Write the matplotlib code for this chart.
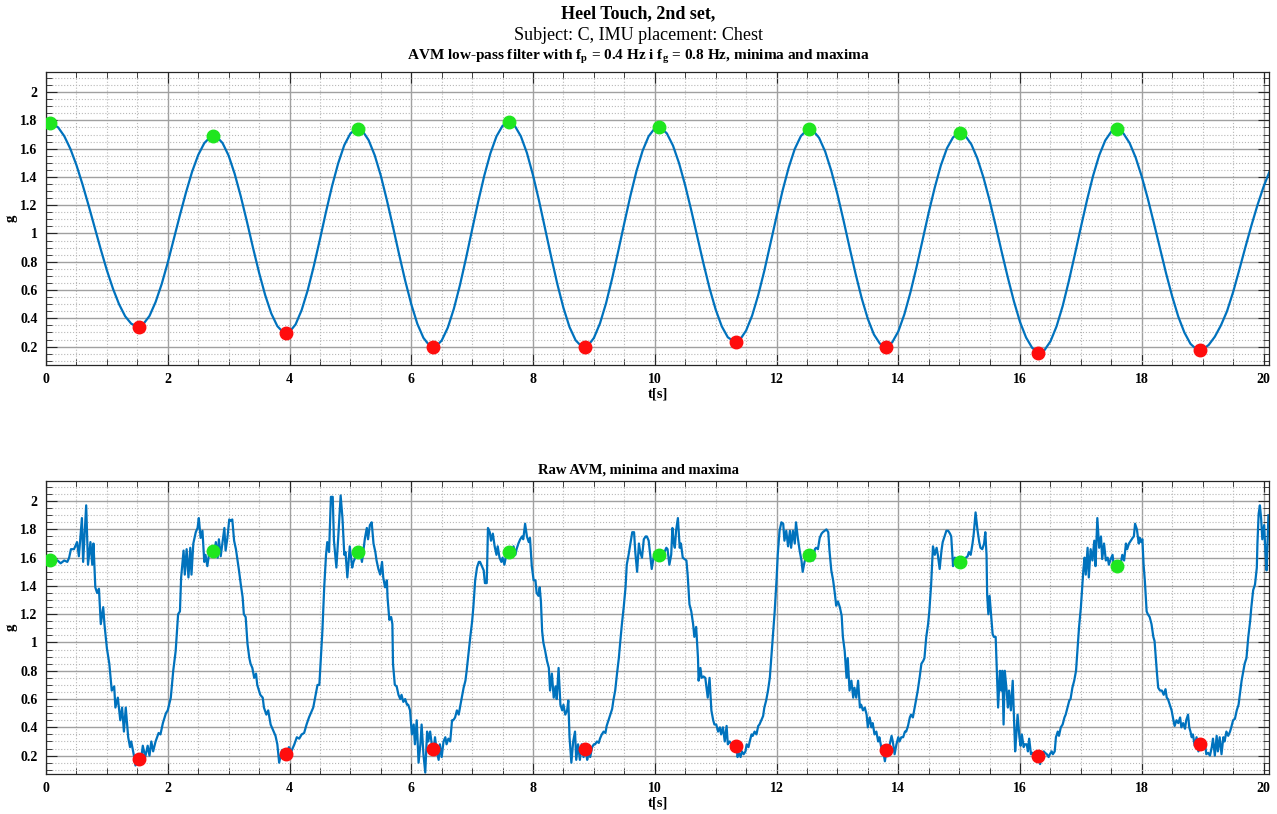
import numpy as np
import matplotlib
matplotlib.use("Agg")
import matplotlib.pyplot as plt
from matplotlib.ticker import MultipleLocator, FuncFormatter

plt.rcParams['font.family'] = ['Liberation Serif', 'DejaVu Serif']
plt.rcParams['mathtext.fontset'] = 'custom'
plt.rcParams['mathtext.rm'] = 'Liberation Serif'
plt.rcParams['mathtext.bf'] = 'Liberation Serif:bold'

# low-pass filtered AVM, sampled every 0.1 s from t = 0 to 20.1 s
t_filt = np.round(np.arange(0, 20.15, 0.1), 2)
g_filt = [
    1.775, 1.778, 1.750, 1.689, 1.599, 1.484, 1.347, 1.198, 1.042, 0.887,
    0.740, 0.610, 0.500, 0.415, 0.362, 0.342, 0.360, 0.417, 0.515, 0.642,
    0.794, 0.961, 1.130, 1.291, 1.437, 1.555, 1.639, 1.683, 1.686, 1.640,
    1.551, 1.421, 1.262, 1.085, 0.900, 0.723, 0.565, 0.435, 0.345, 0.299,
    0.304, 0.357, 0.459, 0.600, 0.771, 0.959, 1.154, 1.337, 1.497, 1.625,
    1.707, 1.742, 1.725, 1.660, 1.553, 1.409, 1.235, 1.047, 0.853, 0.667,
    0.500, 0.361, 0.262, 0.207, 0.199, 0.243, 0.334, 0.468, 0.635, 0.826,
    1.028, 1.226, 1.410, 1.567, 1.687, 1.762, 1.788, 1.762, 1.688, 1.570,
    1.412, 1.230, 1.032, 0.832, 0.642, 0.474, 0.338, 0.245, 0.200, 0.205,
    0.261, 0.364, 0.507, 0.682, 0.875, 1.074, 1.267, 1.442, 1.585, 1.688,
    1.744, 1.749, 1.707, 1.621, 1.496, 1.340, 1.163, 0.975, 0.788, 0.613,
    0.463, 0.344, 0.266, 0.237, 0.249, 0.313, 0.420, 0.565, 0.737, 0.928,
    1.120, 1.304, 1.466, 1.598, 1.689, 1.733, 1.728, 1.676, 1.579, 1.443,
    1.279, 1.094, 0.901, 0.713, 0.541, 0.396, 0.286, 0.220, 0.200, 0.230,
    0.307, 0.428, 0.584, 0.762, 0.955, 1.148, 1.326, 1.482, 1.603, 1.680,
    1.710, 1.692, 1.631, 1.530, 1.395, 1.234, 1.055, 0.868, 0.688, 0.520,
    0.374, 0.264, 0.191, 0.159, 0.174, 0.237, 0.343, 0.486, 0.660, 0.850,
    1.045, 1.235, 1.408, 1.552, 1.658, 1.721, 1.737, 1.707, 1.640, 1.537,
    1.402, 1.245, 1.072, 0.894, 0.717, 0.555, 0.412, 0.300, 0.220, 0.180,
    0.180, 0.212, 0.270, 0.350, 0.450, 0.585, 0.740, 0.900, 1.055, 1.200,
    1.330, 1.440,
]

# raw AVM, vertices
t_raw = [
    0.00, 0.07, 0.13, 0.19, 0.24, 0.30, 0.35, 0.38, 0.41, 0.46, 0.51, 0.54, 0.59, 0.61, 0.66,
    0.69, 0.73, 0.76, 0.78, 0.81, 0.84, 0.87, 0.90, 0.94, 0.96, 1.00, 1.04, 1.08, 1.12, 1.14,
    1.18, 1.22, 1.25, 1.28, 1.31, 1.35, 1.38, 1.40, 1.44, 1.47, 1.50, 1.54, 1.57, 1.59, 1.63,
    1.67, 1.70, 1.73, 1.76, 1.80, 1.85, 1.88, 1.92, 1.97, 2.00, 2.05, 2.09, 2.13, 2.17, 2.20,
    2.22, 2.26, 2.28, 2.31, 2.34, 2.37, 2.39, 2.42, 2.46, 2.49, 2.51, 2.54, 2.57, 2.60, 2.62,
    2.65, 2.69, 2.73, 2.76, 2.79, 2.82, 2.84, 2.87, 2.90, 2.93, 2.95, 2.98, 3.01, 3.03, 3.06,
    3.09, 3.12, 3.14, 3.17, 3.20, 3.23, 3.25, 3.28, 3.31, 3.34, 3.36, 3.39, 3.42, 3.45, 3.47,
    3.52, 3.56, 3.58, 3.62, 3.65, 3.69, 3.74, 3.77, 3.80, 3.83, 3.86, 3.88, 3.92, 3.96, 3.99,
    4.03, 4.08, 4.12, 4.16, 4.20, 4.24, 4.28, 4.32, 4.35, 4.39, 4.43, 4.46, 4.49, 4.51, 4.54,
    4.57, 4.60, 4.62, 4.65, 4.68, 4.71, 4.73, 4.77, 4.80, 4.84, 4.87, 4.90, 4.92, 4.95, 4.99,
    5.03, 5.05, 5.08, 5.11, 5.16, 5.19, 5.21, 5.24, 5.27, 5.29, 5.32, 5.35, 5.38, 5.41, 5.43,
    5.46, 5.49, 5.52, 5.54, 5.57, 5.60, 5.61, 5.64, 5.67, 5.69, 5.70, 5.73, 5.76, 5.79, 5.82,
    5.84, 5.87, 5.90, 5.93, 5.95, 5.98, 6.01, 6.04, 6.06, 6.09, 6.12, 6.15, 6.17, 6.20, 6.23,
    6.26, 6.28, 6.31, 6.34, 6.37, 6.39, 6.42, 6.45, 6.47, 6.50, 6.53, 6.56, 6.58, 6.61, 6.64,
    6.67, 6.69, 6.72, 6.75, 6.78, 6.80, 6.83, 6.86, 6.89, 6.91, 6.94, 6.97, 7.00, 7.02, 7.05,
    7.08, 7.11, 7.13, 7.16, 7.19, 7.21, 7.24, 7.26, 7.29, 7.31, 7.34, 7.37, 7.40, 7.42, 7.45,
    7.48, 7.50, 7.53, 7.57, 7.60, 7.63, 7.66, 7.68, 7.71, 7.73, 7.76, 7.79, 7.82, 7.84, 7.87,
    7.90, 7.93, 7.95, 7.98, 8.01, 8.04, 8.06, 8.09, 8.11, 8.13, 8.15, 8.17, 8.20, 8.23, 8.26,
    8.28, 8.31, 8.34, 8.37, 8.39, 8.42, 8.45, 8.48, 8.50, 8.53, 8.56, 8.58, 8.60, 8.63, 8.66,
    8.69, 8.71, 8.74, 8.77, 8.80, 8.83, 8.86, 8.89, 8.91, 8.94, 8.97, 9.00, 9.02, 9.05, 9.08,
    9.10, 9.13, 9.16, 9.19, 9.21, 9.24, 9.27, 9.30, 9.32, 9.35, 9.38, 9.41, 9.43, 9.46, 9.49,
    9.52, 9.54, 9.57, 9.60, 9.63, 9.66, 9.68, 9.71, 9.74, 9.76, 9.79, 9.82, 9.85, 9.87, 9.90,
    9.93, 9.95, 9.98, 10.01, 10.07, 10.11, 10.13, 10.16, 10.19, 10.21, 10.24, 10.27, 10.29, 10.31, 10.33,
    10.35, 10.38, 10.41, 10.43, 10.46, 10.49, 10.52, 10.54, 10.57, 10.60, 10.63, 10.65, 10.68, 10.71, 10.72,
    10.75, 10.77, 10.80, 10.83, 10.85, 10.87, 10.90, 10.93, 10.96, 10.98, 11.01, 11.04, 11.07, 11.09, 11.12,
    11.15, 11.18, 11.20, 11.23, 11.26, 11.29, 11.31, 11.34, 11.36, 11.38, 11.41, 11.43, 11.46, 11.49, 11.51,
    11.54, 11.56, 11.59, 11.61, 11.64, 11.67, 11.70, 11.72, 11.75, 11.78, 11.80, 11.83, 11.86, 11.89, 11.91,
    11.94, 11.97, 12.00, 12.02, 12.05, 12.08, 12.11, 12.13, 12.16, 12.19, 12.22, 12.24, 12.27, 12.30, 12.32,
    12.35, 12.38, 12.41, 12.43, 12.46, 12.49, 12.54, 12.57, 12.60, 12.63, 12.65, 12.68, 12.71, 12.74, 12.76,
    12.79, 12.82, 12.85, 12.87, 12.90, 12.93, 12.96, 12.98, 13.01, 13.04, 13.07, 13.09, 13.12, 13.15, 13.17,
    13.20, 13.23, 13.26, 13.28, 13.31, 13.34, 13.37, 13.39, 13.42, 13.45, 13.48, 13.50, 13.53, 13.56, 13.58,
    13.61, 13.64, 13.67, 13.69, 13.72, 13.75, 13.78, 13.81, 13.83, 13.86, 13.89, 13.91, 13.94, 13.97, 14.00,
    14.02, 14.05, 14.08, 14.11, 14.13, 14.16, 14.19, 14.21, 14.24, 14.27, 14.30, 14.32, 14.35, 14.38, 14.41,
    14.43, 14.46, 14.49, 14.51, 14.54, 14.57, 14.60, 14.63, 14.65, 14.68, 14.71, 14.73, 14.76, 14.79, 14.82,
    14.85, 14.87, 14.90, 14.93, 14.95, 14.98, 15.04, 15.11, 15.14, 15.16, 15.19, 15.22, 15.24, 15.27, 15.30,
    15.33, 15.35, 15.38, 15.41, 15.43, 15.45, 15.46, 15.48, 15.50, 15.52, 15.55, 15.57, 15.60, 15.62, 15.64,
    15.67, 15.69, 15.71, 15.73, 15.75, 15.78, 15.80, 15.82, 15.85, 15.88, 15.90, 15.92, 15.94, 15.96, 15.99,
    16.01, 16.03, 16.06, 16.08, 16.11, 16.13, 16.15, 16.18, 16.20, 16.23, 16.26, 16.29, 16.33, 16.36, 16.39,
    16.41, 16.44, 16.47, 16.49, 16.52, 16.54, 16.57, 16.59, 16.62, 16.64, 16.67, 16.70, 16.73, 16.75, 16.78,
    16.81, 16.83, 16.86, 16.89, 16.92, 16.94, 16.97, 17.00, 17.03, 17.04, 17.06, 17.08, 17.11, 17.13, 17.16,
    17.19, 17.22, 17.24, 17.27, 17.30, 17.33, 17.35, 17.38, 17.41, 17.44, 17.46, 17.49, 17.52, 17.54, 17.61,
    17.66, 17.68, 17.71, 17.74, 17.76, 17.79, 17.82, 17.85, 17.87, 17.89, 17.92, 17.95, 17.97, 17.99, 18.01,
    18.03, 18.05, 18.08, 18.10, 18.13, 18.16, 18.19, 18.21, 18.23, 18.25, 18.27, 18.30, 18.33, 18.36, 18.39,
    18.41, 18.43, 18.46, 18.49, 18.52, 18.54, 18.57, 18.60, 18.63, 18.65, 18.68, 18.71, 18.73, 18.76, 18.78,
    18.80, 18.82, 18.84, 18.87, 18.90, 18.93, 18.95, 18.98, 19.01, 19.04, 19.06, 19.09, 19.12, 19.15, 19.17,
    19.20, 19.23, 19.25, 19.28, 19.31, 19.34, 19.36, 19.39, 19.42, 19.45, 19.47, 19.50, 19.53, 19.56, 19.59,
    19.61, 19.64, 19.67, 19.69, 19.72, 19.75, 19.78, 19.80, 19.83, 19.86, 19.89, 19.90, 19.92, 19.94, 19.96,
    19.98, 20.01, 20.03, 20.05, 20.07, 20.08,
]
g_raw = [
    1.59, 1.585, 1.58, 1.58, 1.56, 1.58, 1.57, 1.60, 1.66, 1.66, 1.71, 1.61, 1.88, 1.57, 1.97,
    1.55, 1.71, 1.55, 1.70, 1.39, 1.35, 1.38, 1.13, 1.25, 1.13, 0.96, 0.85, 0.66, 0.69, 0.54,
    0.61, 0.45, 0.54, 0.37, 0.54, 0.33, 0.26, 0.30, 0.21, 0.13, 0.19, 0.175, 0.20, 0.27, 0.19,
    0.27, 0.20, 0.30, 0.23, 0.30, 0.36, 0.35, 0.43, 0.50, 0.52, 0.61, 0.80, 0.94, 1.20, 1.22,
    1.46, 1.65, 1.48, 1.66, 1.46, 1.67, 1.48, 1.70, 1.78, 1.81, 1.88, 1.74, 1.79, 1.57, 1.62,
    1.54, 1.66, 1.65, 1.62, 1.71, 1.60, 1.73, 1.61, 1.71, 1.81, 1.65, 1.74, 1.87, 1.86, 1.87,
    1.72, 1.66, 1.60, 1.51, 1.41, 1.32, 1.20, 1.18, 0.99, 0.89, 0.85, 0.82, 0.75, 0.78, 0.70,
    0.63, 0.61, 0.54, 0.49, 0.52, 0.42, 0.37, 0.34, 0.28, 0.15, 0.21, 0.24, 0.20, 0.21, 0.26,
    0.23, 0.28, 0.33, 0.32, 0.35, 0.36, 0.42, 0.47, 0.50, 0.54, 0.63, 0.70, 0.70, 0.85, 1.08,
    1.39, 1.62, 1.71, 1.64, 2.03, 2.03, 1.72, 1.53, 1.74, 2.04, 1.88, 1.62, 1.64, 1.46, 1.68,
    1.53, 1.57, 1.60, 1.64, 1.64, 1.57, 1.64, 1.74, 1.81, 1.73, 1.83, 1.85, 1.70, 1.64, 1.58,
    1.52, 1.48, 1.57, 1.46, 1.39, 1.44, 1.32, 1.16, 1.18, 1.13, 0.85, 0.70, 0.69, 0.63, 0.60,
    0.63, 0.58, 0.60, 0.56, 0.56, 0.52, 0.35, 0.42, 0.28, 0.45, 0.15, 0.28, 0.42, 0.21, 0.08,
    0.37, 0.30, 0.37, 0.27, 0.25, 0.33, 0.23, 0.17, 0.28, 0.19, 0.30, 0.33, 0.28, 0.32, 0.30,
    0.45, 0.45, 0.47, 0.52, 0.49, 0.54, 0.61, 0.68, 0.73, 0.80, 0.92, 1.04, 1.15, 1.25, 1.44,
    1.53, 1.57, 1.57, 1.54, 1.51, 1.42, 1.42, 1.81, 1.78, 1.72, 1.77, 1.68, 1.62, 1.68, 1.60,
    1.57, 1.60, 1.55, 1.64, 1.64, 1.64, 1.61, 1.68, 1.62, 1.66, 1.70, 1.73, 1.75, 1.73, 1.84,
    1.75, 1.71, 1.74, 1.54, 1.44, 1.44, 1.35, 1.33, 1.39, 1.29, 1.08, 1.00, 0.94, 0.87, 0.82,
    0.66, 0.78, 0.61, 0.69, 0.60, 0.82, 0.56, 0.52, 0.56, 0.49, 0.52, 0.59, 0.33, 0.15, 0.30,
    0.37, 0.17, 0.28, 0.17, 0.28, 0.19, 0.25, 0.17, 0.21, 0.19, 0.26, 0.28, 0.28, 0.30, 0.29,
    0.32, 0.35, 0.37, 0.36, 0.41, 0.45, 0.49, 0.53, 0.59, 0.66, 0.78, 0.89, 0.99, 1.13, 1.25,
    1.39, 1.55, 1.62, 1.70, 1.78, 1.78, 1.64, 1.50, 1.70, 1.64, 1.60, 1.73, 1.75, 1.75, 1.72,
    1.60, 1.52, 1.60, 1.64, 1.62, 1.62, 1.61, 1.64, 1.67, 1.66, 1.55, 1.62, 1.81, 1.71, 1.67,
    1.79, 1.88, 1.67, 1.70, 1.60, 1.59, 1.58, 1.48, 1.27, 1.22, 1.13, 1.04, 1.11, 0.89, 0.73,
    0.82, 0.75, 0.76, 0.75, 0.68, 0.61, 0.75, 0.52, 0.45, 0.42, 0.42, 0.37, 0.40, 0.35, 0.40,
    0.30, 0.41, 0.28, 0.30, 0.28, 0.26, 0.28, 0.27, 0.19, 0.22, 0.19, 0.23, 0.21, 0.23, 0.28,
    0.26, 0.30, 0.35, 0.34, 0.37, 0.35, 0.41, 0.42, 0.45, 0.48, 0.54, 0.59, 0.66, 0.75, 0.87,
    1.04, 1.22, 1.44, 1.62, 1.79, 1.85, 1.84, 1.72, 1.79, 1.68, 1.79, 1.67, 1.79, 1.70, 1.85,
    1.74, 1.65, 1.58, 1.50, 1.57, 1.61, 1.62, 1.60, 1.58, 1.66, 1.67, 1.66, 1.74, 1.77, 1.78,
    1.79, 1.80, 1.78, 1.65, 1.51, 1.44, 1.34, 1.26, 1.29, 1.25, 1.19, 1.04, 0.94, 0.75, 0.89,
    0.66, 0.73, 0.61, 0.68, 0.61, 0.73, 0.54, 0.56, 0.52, 0.54, 0.49, 0.40, 0.47, 0.40, 0.43,
    0.35, 0.37, 0.30, 0.33, 0.26, 0.24, 0.16, 0.24, 0.21, 0.28, 0.34, 0.30, 0.21, 0.28, 0.33,
    0.30, 0.33, 0.33, 0.37, 0.37, 0.41, 0.47, 0.49, 0.47, 0.54, 0.61, 0.66, 0.75, 0.85, 0.87,
    0.89, 1.04, 1.13, 1.22, 1.41, 1.68, 1.62, 1.67, 1.62, 1.52, 1.65, 1.71, 1.75, 1.79, 1.79,
    1.77, 1.75, 1.54, 1.60, 1.55, 1.57, 1.57, 1.60, 1.61, 1.64, 1.62, 1.70, 1.77, 1.92, 1.80,
    1.71, 1.67, 1.66, 1.70, 1.78, 1.62, 1.34, 1.20, 1.33, 1.22, 1.06, 1.04, 1.04, 0.80, 0.54,
    0.80, 0.66, 0.80, 0.42, 0.80, 0.66, 0.54, 0.66, 0.52, 0.73, 0.47, 0.23, 0.35, 0.49, 0.33,
    0.27, 0.35, 0.26, 0.28, 0.28, 0.23, 0.32, 0.21, 0.22, 0.20, 0.21, 0.20, 0.14, 0.21, 0.23,
    0.22, 0.21, 0.19, 0.21, 0.23, 0.21, 0.23, 0.33, 0.37, 0.34, 0.40, 0.42, 0.47, 0.49, 0.54,
    0.59, 0.60, 0.68, 0.73, 0.80, 0.92, 1.11, 1.25, 1.44, 1.51, 1.60, 1.48, 1.67, 1.46, 1.66,
    1.58, 1.72, 1.54, 1.88, 1.67, 1.75, 1.59, 1.70, 1.58, 1.60, 1.55, 1.59, 1.62, 1.54, 1.54,
    1.57, 1.62, 1.58, 1.70, 1.66, 1.70, 1.72, 1.74, 1.75, 1.84, 1.80, 1.70, 1.74, 1.71, 1.73,
    1.55, 1.44, 1.22, 1.20, 1.18, 1.13, 1.04, 1.01, 0.89, 0.78, 0.68, 0.66, 0.66, 0.63, 0.67,
    0.61, 0.60, 0.56, 0.52, 0.45, 0.41, 0.45, 0.43, 0.47, 0.40, 0.43, 0.39, 0.45, 0.49, 0.40,
    0.37, 0.33, 0.35, 0.27, 0.33, 0.23, 0.29, 0.24, 0.26, 0.28, 0.21, 0.22, 0.20, 0.26, 0.32,
    0.20, 0.34, 0.23, 0.33, 0.21, 0.33, 0.30, 0.37, 0.34, 0.37, 0.40, 0.45, 0.46, 0.52, 0.56,
    0.63, 0.73, 0.80, 0.85, 0.89, 1.04, 1.15, 1.25, 1.37, 1.41, 1.53, 1.70, 1.91, 1.97, 1.88,
    1.73, 1.83, 1.65, 1.51, 1.75, 1.90,
]

# detected extrema (times of the filtered maxima / minima)
t_max = [0.066, 2.74, 5.13, 7.60, 10.07, 12.54, 15.02, 17.59]
t_min = [1.52, 3.95, 6.36, 8.85, 11.33, 13.80, 16.30, 18.95]
g_max_filt = [1.78, 1.69, 1.742, 1.788, 1.753, 1.737, 1.71, 1.737]
g_min_filt = [0.342, 0.295, 0.196, 0.196, 0.233, 0.20, 0.158, 0.175]
g_max_raw = [1.585, 1.65, 1.64, 1.64, 1.62, 1.62, 1.57, 1.54]
g_min_raw = [0.175, 0.21, 0.25, 0.25, 0.265, 0.238, 0.20, 0.285]

line_col = '#0072BD'
green = '#1fe61f'
red = '#ff0d0d'

fig = plt.figure(figsize=(12.77, 8.14), dpi=100)
ax1 = fig.add_axes([46/1277, 1 - 365/814, 1223/1277, 292.7/814])
ax2 = fig.add_axes([46/1277, 1 - 774/814, 1223/1277, 292.7/814])


def style(ax):
    ax.set_xlim(0, 20.09)
    ax.set_ylim(0.07, 2.14)
    ax.xaxis.set_major_locator(MultipleLocator(2))
    ax.xaxis.set_minor_locator(MultipleLocator(0.5))
    ax.yaxis.set_major_locator(MultipleLocator(0.2))
    ax.yaxis.set_minor_locator(MultipleLocator(0.05))
    ax.yaxis.set_major_formatter(FuncFormatter(lambda v, p: '%g' % round(v, 2)))
    ax.grid(which='major', color='#a0a0a0', linewidth=1.0)
    ax.grid(which='minor', color='#b8b8b8', linestyle=':', linewidth=0.8)
    ax.set_axisbelow(True)
    ax.tick_params(which='both', direction='in', top=True, right=True, color='#262626')
    ax.tick_params(which='major', length=8, width=0.8, labelsize=10, pad=6)
    ax.tick_params(which='minor', length=4, width=0.6)
    for lab in ax.get_xticklabels() + ax.get_yticklabels():
        lab.set_fontweight('bold')
    for s in ax.spines.values():
        s.set_color('#262626')
        s.set_linewidth(0.9)
    ax.set_xlabel('t[s]', fontsize=10.5, fontweight='bold', labelpad=1)
    ax.set_ylabel('g', fontsize=10.5, fontweight='bold', labelpad=2)


ax1.plot(t_filt, g_filt, color=line_col, linewidth=1.6)
ax1.plot(t_max, g_max_filt, 'o', color=green, markersize=9, zorder=5)
ax1.plot(t_min, g_min_filt, 'o', color=red, markersize=9, zorder=5)
style(ax1)

ax2.plot(t_raw, g_raw, color=line_col, linewidth=1.6)
ax2.plot(t_max, g_max_raw, 'o', color=green, markersize=9, zorder=5)
ax2.plot(t_min, g_min_raw, 'o', color=red, markersize=9, zorder=5)
style(ax2)

fig.text(0.5, 1 - 14/814, 'Heel Touch, 2nd set,', ha='center', va='center',
         fontsize=13, fontweight='bold')
fig.text(0.5, 1 - 36/814, 'Subject: C, IMU placement: Chest', ha='center', va='center',
         fontsize=13)
fig.text(0.5, 1 - 57/814,
         r'AVM low-pass filter with f$_\mathbf{p}$ = 0.4 Hz i f$_\mathbf{g}$ = 0.8 Hz, minima and maxima',
         ha='center', va='center', fontsize=11, fontweight='bold')
fig.text(0.5, 1 - 470/814, 'Raw AVM, minima and maxima', ha='center', va='center',
         fontsize=10.5, fontweight='bold')

fig.savefig('out.png', dpi=100)
